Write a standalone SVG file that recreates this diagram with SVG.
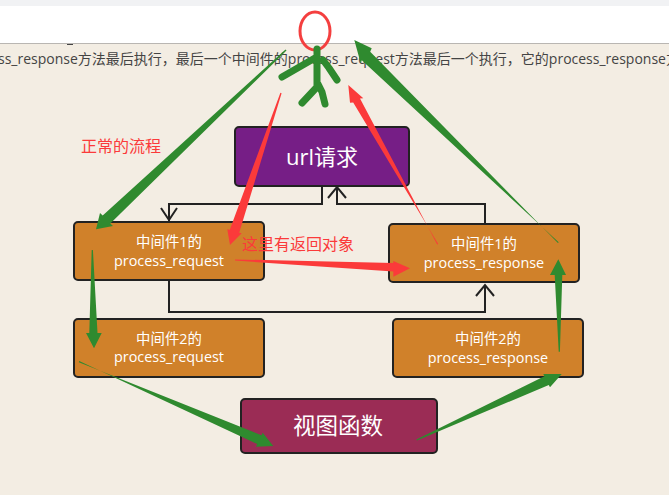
<svg xmlns="http://www.w3.org/2000/svg" width="669" height="495" viewBox="0 0 669 495">
<style>
text{font-family:"Open Sans","Noto Sans CJK SC",sans-serif}
.n{stroke:#222;stroke-width:2}
.o{fill:#d0812a}
.w{fill:#fff;font-size:14.4px;text-anchor:middle}
.w2{fill:#fff;text-anchor:middle}
.c{fill:none;stroke:#222;stroke-width:2}
.g{fill:#2f8a2f}
.r{fill:#fb3a3a}
.s{fill:none;stroke:#2f8a2f;stroke-width:7;stroke-linecap:round;stroke-linejoin:round}
.l{fill:#fb3a3a;font-size:16px}
</style>
<rect width="669" height="495" fill="#f3ede3"/>
<rect width="669" height="6" fill="#f1f2f4"/>
<rect y="6" width="669" height="37" fill="#fff"/>
<rect y="43" width="669" height="1" fill="#b9b6b2"/>
<rect x="67" y="44" width="6" height="1" fill="#444"/>
<text x="-2" y="64" fill="#444" style="font-size:14px">ss_response方法最后执行，最后一个中间件的process_request方法最后一个执行，它的process_response方</text>
<g id="connectors">
<path class="c" d="M322 186V204H169V221M161 208L169 220L177 208"/>
<path class="c" d="M485 224V204H337V187M328 198L337 187L346 198"/>
<path class="c" d="M169 280V312H485V285M476 296L485 285L494 296"/>
</g>
<g id="node-url"><rect class="n" x="235" y="127" width="174" height="59" rx="4" fill="#761e86"/><text class="w2" x="322" y="165" style="font-size:22px">url请求</text></g>
<g id="node-req1"><rect class="n o" x="74" y="222" width="190" height="58" rx="4"/><text class="w" x="169" y="247">中间件1的</text><text class="w" x="169" y="266">process_request</text></g>
<g id="node-resp1"><rect class="n o" x="389" y="224" width="190" height="58" rx="4"/><text class="w" x="484" y="249">中间件1的</text><text class="w" x="484" y="268">process_response</text></g>
<g id="node-req2"><rect class="n o" x="74" y="319" width="190" height="58" rx="4"/><text class="w" x="169" y="344">中间件2的</text><text class="w" x="169" y="362">process_request</text></g>
<g id="node-resp2"><rect class="n o" x="393" y="319" width="190" height="58" rx="4"/><text class="w" x="488" y="344">中间件2的</text><text class="w" x="488" y="363">process_response</text></g>
<g id="node-view"><rect class="n" x="241" y="399" width="196" height="54" rx="4" fill="#9b2c55"/><text class="w2" x="338" y="434" style="font-size:22.5px">视图函数</text></g>
<g id="person">
<ellipse cx="315" cy="31" rx="15" ry="19" fill="none" stroke="#f43f3f" stroke-width="3"/>
<path class="s" d="M317 49V86M282 77L315 58M323 60L329 68L337 80M317 87L302 103M318 84L322 92L325 104"/>
</g>
<g id="arrows">
<polygon class="g" points="286.5,50.5 110.3,223.5 113,226 96,229.3 100,213 102.7,215.5 285.5,49.5"/>
<polygon class="g" points="92.9,250 97.5,333 101.7,333 94,348.3 86,333 89.3,333 91.7,250"/>
<polygon class="g" points="78.8,362.3 261.4,435.2 262.7,432.7 273.3,446 256,446.7 257.2,444.1 79.2,361.1"/>
<polygon class="g" points="416.4,439.4 544.4,376.2 543.3,374 561.7,374 550,387.3 548.8,385 417,440.6"/>
<polygon class="g" points="559.9,351.7 562.3,275 566,275 558.3,259.3 550,275 554.7,275 558.7,351.7"/>
<polygon class="g" points="558.7,242.3 361.8,60.2 360.7,63.3 354.3,40 371.7,48.3 370.2,51.8 557.9,243.1"/>
<polygon class="r" points="281.6,93.2 239.2,232.8 241.7,233.3 230,245 227.3,229.3 229.8,229.8 280.4,92.8"/>
<polygon class="r" points="438.2,244 353.2,102.4 350,102.7 348.3,85 363.3,98.3 360,98.6 437.2,244.6"/>
<polygon class="r" points="235,259.4 393.3,263 393.3,261 410,268.3 393.3,276.7 393.3,271.4 235,260.6"/>
</g>
<text class="l" x="81" y="152">正常的流程</text>
<text class="l" x="242" y="250">这里有返回对象</text>
</svg>
